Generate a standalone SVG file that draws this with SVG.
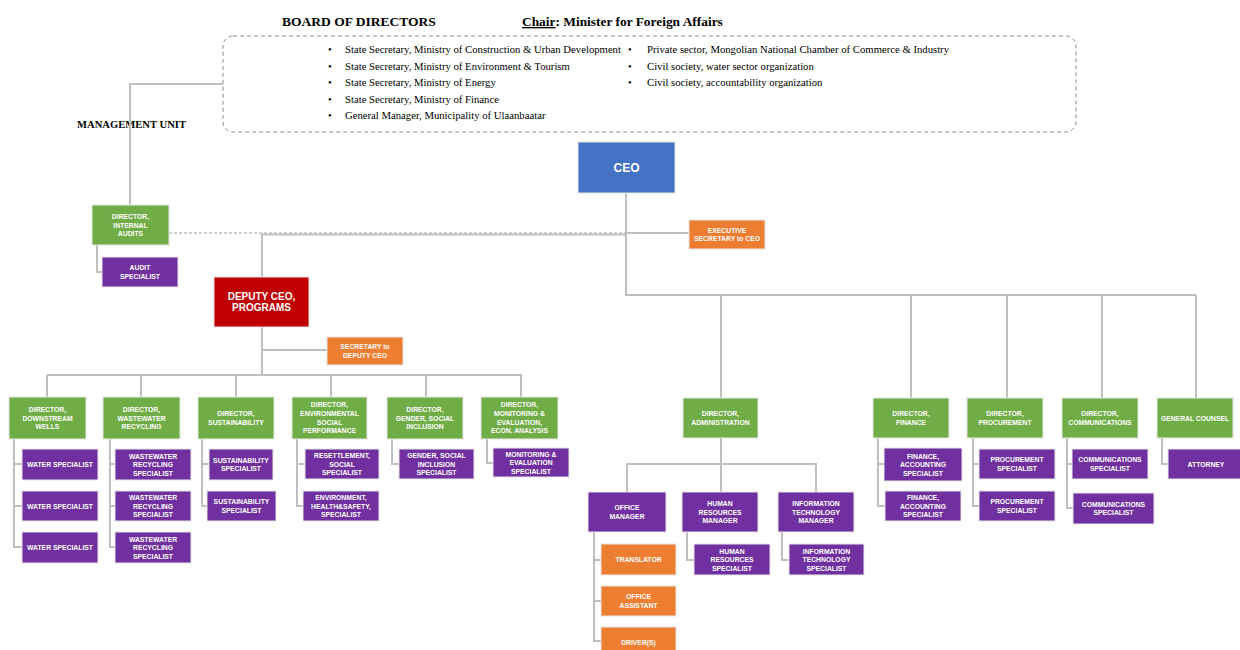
<svg xmlns="http://www.w3.org/2000/svg" width="1240" height="650" viewBox="0 0 1240 650">
<style>
.bx{stroke:#E6E6E6;stroke-width:1}
.g{fill:#70AD47}.p{fill:#7030A0}.o{fill:#ED7D31}.b{fill:#4472C4}.r{fill:#C00000}
.t{font-family:"Liberation Sans",Arial,sans-serif;font-weight:bold;font-size:6.8px;fill:#fff;text-anchor:middle}
.c{fill:none;stroke:#BFBFBF;stroke-width:2}
.cd{fill:none;stroke:#BFBFBF;stroke-width:1.5;stroke-dasharray:3 2}
.s{font-family:"Liberation Serif","Times New Roman",serif;font-size:10.7px;fill:#000}
.h{font-family:"Liberation Serif","Times New Roman",serif;font-weight:bold;fill:#000}
</style>
<rect width="1240" height="650" fill="#fff"/>

<g id="board">
<text class="h" x="282" y="26" style="font-size:13.5px">BOARD OF DIRECTORS</text>
<text class="h" x="522" y="26" style="font-size:13.4px"><tspan text-decoration="underline">Chair</tspan>: Minister for Foreign Affairs</text>
<rect x="223" y="36" width="853" height="96" rx="10" fill="none" stroke="#8C8C8C" stroke-width="1" stroke-dasharray="4 3"/>
<g class="s">
<text x="328" y="53">•</text><text x="345" y="53">State Secretary, Ministry of Construction &amp; Urban Development</text>
<text x="328" y="69.5">•</text><text x="345" y="69.5">State Secretary, Ministry of Environment &amp; Tourism</text>
<text x="328" y="86">•</text><text x="345" y="86">State Secretary, Ministry of Energy</text>
<text x="328" y="102.5">•</text><text x="345" y="102.5">State Secretary, Ministry of Finance</text>
<text x="328" y="119">•</text><text x="345" y="119">General Manager, Municipality of Ulaanbaatar</text>
<text x="628" y="53">•</text><text x="647" y="53">Private sector, Mongolian National Chamber of Commerce &amp; Industry</text>
<text x="628" y="69.5">•</text><text x="647" y="69.5">Civil society, water sector organization</text>
<text x="628" y="86">•</text><text x="647" y="86">Civil society, accountability organization</text>
</g>
</g>
<text id="mgmt-label" class="h" x="77" y="128" style="font-size:10.6px">MANAGEMENT UNIT</text>

<g id="connectors">
<polyline class="c" stroke-width="1.5" points="223,84 130,84 130,205"/>
<line class="cd" x1="169" y1="233" x2="626" y2="233"/>
<polyline class="c" points="262,277 262,234.5 626,234.5"/>
<line class="c" x1="626" y1="193" x2="626" y2="296"/>
<line class="c" x1="626" y1="233" x2="689" y2="233"/>
<polyline class="c" points="97,245 97,272 102,272"/>
<line class="c" x1="625" y1="295" x2="1196" y2="295"/>
<line class="c" x1="721" y1="295" x2="721" y2="398"/>
<line class="c" x1="911" y1="295" x2="911" y2="398"/>
<line class="c" x1="1007" y1="295" x2="1007" y2="398"/>
<line class="c" x1="1102" y1="295" x2="1102" y2="398"/>
<line class="c" x1="1196" y1="295" x2="1196" y2="398"/>
<line class="c" x1="262" y1="327" x2="262" y2="376"/>
<line class="c" x1="262" y1="350" x2="327" y2="350"/>
<line class="c" x1="47" y1="375" x2="522" y2="375"/>
<line class="c" x1="47" y1="375" x2="47" y2="397"/>
<line class="c" x1="141" y1="375" x2="141" y2="397"/>
<line class="c" x1="236" y1="375" x2="236" y2="397"/>
<line class="c" x1="331" y1="375" x2="331" y2="397"/>
<line class="c" x1="426" y1="375" x2="426" y2="397"/>
<line class="c" x1="521" y1="375" x2="521" y2="397"/>
<polyline class="c" points="14,439 14,547 22,547"/>
<line class="c" x1="14" y1="464" x2="22" y2="464"/>
<line class="c" x1="14" y1="506" x2="22" y2="506"/>
<polyline class="c" points="110,439 110,547 115,547"/>
<line class="c" x1="110" y1="464" x2="115" y2="464"/>
<line class="c" x1="110" y1="506" x2="115" y2="506"/>
<polyline class="c" points="202,439 202,506 207,506"/>
<line class="c" x1="202" y1="464" x2="209" y2="464"/>
<polyline class="c" points="297,439 297,506 303,506"/>
<line class="c" x1="297" y1="464" x2="305" y2="464"/>
<polyline class="c" points="392,439 392,464 399,464"/>
<polyline class="c" points="487,439 487,463 493,463"/>
<line class="c" x1="721" y1="438" x2="721" y2="492"/>
<polyline class="c" points="627,492 627,464 816,464 816,492"/>
<polyline class="c" points="594,532 594,641 601,641"/>
<line class="c" x1="594" y1="560" x2="601" y2="560"/>
<line class="c" x1="594" y1="601" x2="601" y2="601"/>
<polyline class="c" points="687,532 687,560 694,560"/>
<polyline class="c" points="782,532 782,560 789,560"/>
<polyline class="c" points="878,438 878,506 885,506"/>
<line class="c" x1="878" y1="464" x2="884" y2="464"/>
<polyline class="c" points="973,438 973,506 979,506"/>
<line class="c" x1="973" y1="464" x2="979" y2="464"/>
<polyline class="c" points="1067,438 1067,508 1073,508"/>
<line class="c" x1="1067" y1="464" x2="1072" y2="464"/>
<polyline class="c" points="1162,438 1162,464 1168,464"/>
</g>

<g id="ceo"><rect class="bx b" x="578" y="142" width="97" height="51"/><text class="t" x="626.5" y="171.5" style="font-size:12px">CEO</text></g>
<g id="exec-secretary"><rect class="bx o" x="689" y="220" width="76" height="29"/><text class="t" x="727" y="232.5"><tspan x="727">EXECUTIVE</tspan><tspan x="727" dy="8.5">SECRETARY to CEO</tspan></text></g>
<g id="internal-audits"><rect class="bx g" x="92" y="205" width="77" height="40"/><text class="t" y="219"><tspan x="130.5">DIRECTOR,</tspan><tspan x="130.5" dy="8.5">INTERNAL</tspan><tspan x="130.5" dy="8.5">AUDITS</tspan></text></g>
<g id="audit-specialist"><rect class="bx p" x="102" y="257" width="76" height="30"/><text class="t" y="270.25"><tspan x="140">AUDIT</tspan><tspan x="140" dy="8.5">SPECIALIST</tspan></text></g>
<g id="deputy-ceo"><rect class="bx r" x="214" y="277" width="95" height="50"/><text class="t" y="299.5" style="font-size:10px"><tspan x="261.5">DEPUTY CEO,</tspan><tspan x="261.5" dy="11.5">PROGRAMS</tspan></text></g>
<g id="secretary-deputy"><rect class="bx o" x="327" y="337" width="76" height="28"/><text class="t" y="349.25"><tspan x="365">SECRETARY to</tspan><tspan x="365" dy="8.5">DEPUTY CEO</tspan></text></g>

<g id="dir-downstream"><rect class="bx g" x="9" y="397" width="77" height="42"/><text class="t" y="412"><tspan x="47.5">DIRECTOR,</tspan><tspan x="47.5" dy="8.5">DOWNSTREAM</tspan><tspan x="47.5" dy="8.5">WELLS</tspan></text></g>
<g id="water-spec-1"><rect class="bx p" x="22" y="449" width="76" height="31"/><text class="t" x="60" y="467">WATER SPECIALIST</text></g>
<g id="water-spec-2"><rect class="bx p" x="22" y="491" width="76" height="30"/><text class="t" x="60" y="508.5">WATER SPECIALIST</text></g>
<g id="water-spec-3"><rect class="bx p" x="22" y="532" width="76" height="31"/><text class="t" x="60" y="550">WATER SPECIALIST</text></g>

<g id="dir-wastewater"><rect class="bx g" x="103" y="397" width="77" height="42"/><text class="t" y="412"><tspan x="141.5">DIRECTOR,</tspan><tspan x="141.5" dy="8.5">WASTEWATER</tspan><tspan x="141.5" dy="8.5">RECYCLING</tspan></text></g>
<g id="ww-spec-1"><rect class="bx p" x="115" y="449" width="76" height="31"/><text class="t" y="458.5"><tspan x="153">WASTEWATER</tspan><tspan x="153" dy="8.5">RECYCLING</tspan><tspan x="153" dy="8.5">SPECIALIST</tspan></text></g>
<g id="ww-spec-2"><rect class="bx p" x="115" y="491" width="76" height="30"/><text class="t" y="500"><tspan x="153">WASTEWATER</tspan><tspan x="153" dy="8.5">RECYCLING</tspan><tspan x="153" dy="8.5">SPECIALIST</tspan></text></g>
<g id="ww-spec-3"><rect class="bx p" x="115" y="532" width="76" height="31"/><text class="t" y="541.5"><tspan x="153">WASTEWATER</tspan><tspan x="153" dy="8.5">RECYCLING</tspan><tspan x="153" dy="8.5">SPECIALIST</tspan></text></g>

<g id="dir-sustainability"><rect class="bx g" x="198" y="397" width="76" height="42"/><text class="t" y="416.25"><tspan x="236">DIRECTOR,</tspan><tspan x="236" dy="8.5">SUSTAINABILITY</tspan></text></g>
<g id="sus-spec-1"><rect class="bx p" x="209" y="449" width="64" height="31"/><text class="t" y="462.75"><tspan x="241">SUSTAINABILITY</tspan><tspan x="241" dy="8.5">SPECIALIST</tspan></text></g>
<g id="sus-spec-2"><rect class="bx p" x="207" y="491" width="69" height="30"/><text class="t" y="504.25"><tspan x="241.5">SUSTAINABILITY</tspan><tspan x="241.5" dy="8.5">SPECIALIST</tspan></text></g>

<g id="dir-environmental"><rect class="bx g" x="292" y="397" width="75" height="42"/><text class="t" y="407"><tspan x="329.5">DIRECTOR,</tspan><tspan x="329.5" dy="8.8">ENVIRONMENTAL</tspan><tspan x="329.5" dy="8.8">SOCIAL</tspan><tspan x="329.5" dy="8.8">PERFORMANCE</tspan></text></g>
<g id="resettlement-spec"><rect class="bx p" x="305" y="449" width="74" height="30"/><text class="t" y="458"><tspan x="342">RESETTLEMENT,</tspan><tspan x="342" dy="8.5">SOCIAL</tspan><tspan x="342" dy="8.5">SPECIALIST</tspan></text></g>
<g id="ehs-spec"><rect class="bx p" x="303" y="491" width="76" height="30"/><text class="t" y="500"><tspan x="341">ENVIRONMENT,</tspan><tspan x="341" dy="8.5">HEALTH&amp;SAFETY,</tspan><tspan x="341" dy="8.5">SPECIALIST</tspan></text></g>

<g id="dir-gender"><rect class="bx g" x="387" y="397" width="76" height="42"/><text class="t" y="412"><tspan x="425">DIRECTOR,</tspan><tspan x="425" dy="8.5">GENDER, SOCIAL</tspan><tspan x="425" dy="8.5">INCLUSION</tspan></text></g>
<g id="gender-spec"><rect class="bx p" x="399" y="449" width="75" height="30"/><text class="t" y="458"><tspan x="436.5">GENDER, SOCIAL</tspan><tspan x="436.5" dy="8.5">INCLUSION</tspan><tspan x="436.5" dy="8.5">SPECIALIST</tspan></text></g>

<g id="dir-monitoring"><rect class="bx g" x="481" y="397" width="77" height="42"/><text class="t" y="407"><tspan x="519.5">DIRECTOR,</tspan><tspan x="519.5" dy="8.8">MONITORING &amp;</tspan><tspan x="519.5" dy="8.8">EVALUATION,</tspan><tspan x="519.5" dy="8.8">ECON. ANALYSIS</tspan></text></g>
<g id="me-spec"><rect class="bx p" x="493" y="448" width="76" height="29"/><text class="t" y="456.5"><tspan x="531">MONITORING &amp;</tspan><tspan x="531" dy="8.5">EVALUATION</tspan><tspan x="531" dy="8.5">SPECIALIST</tspan></text></g>

<g id="dir-admin"><rect class="bx g" x="683" y="398" width="75" height="40"/><text class="t" y="416.25"><tspan x="720.5">DIRECTOR,</tspan><tspan x="720.5" dy="8.5">ADMINISTRATION</tspan></text></g>
<g id="office-manager"><rect class="bx p" x="588" y="492" width="78" height="40"/><text class="t" y="510.25"><tspan x="627">OFFICE</tspan><tspan x="627" dy="8.5">MANAGER</tspan></text></g>
<g id="translator"><rect class="bx o" x="601" y="544" width="75" height="31"/><text class="t" x="638.5" y="562">TRANSLATOR</text></g>
<g id="office-assistant"><rect class="bx o" x="601" y="586" width="75" height="30"/><text class="t" y="599.25"><tspan x="638.5">OFFICE</tspan><tspan x="638.5" dy="8.5">ASSISTANT</tspan></text></g>
<g id="drivers"><rect class="bx o" x="601" y="627" width="75" height="30"/><text class="t" x="638.5" y="644.5">DRIVER(S)</text></g>
<g id="hr-manager"><rect class="bx p" x="682" y="492" width="76" height="40"/><text class="t" y="506"><tspan x="720">HUMAN</tspan><tspan x="720" dy="8.5">RESOURCES</tspan><tspan x="720" dy="8.5">MANAGER</tspan></text></g>
<g id="hr-spec"><rect class="bx p" x="694" y="544" width="76" height="31"/><text class="t" y="553.5"><tspan x="732">HUMAN</tspan><tspan x="732" dy="8.5">RESOURCES</tspan><tspan x="732" dy="8.5">SPECIALIST</tspan></text></g>
<g id="it-manager"><rect class="bx p" x="778" y="492" width="76" height="40"/><text class="t" y="506"><tspan x="816">INFORMATION</tspan><tspan x="816" dy="8.5">TECHNOLOGY</tspan><tspan x="816" dy="8.5">MANAGER</tspan></text></g>
<g id="it-spec"><rect class="bx p" x="789" y="544" width="75" height="31"/><text class="t" y="553.5"><tspan x="826.5">INFORMATION</tspan><tspan x="826.5" dy="8.5">TECHNOLOGY</tspan><tspan x="826.5" dy="8.5">SPECIALIST</tspan></text></g>

<g id="dir-finance"><rect class="bx g" x="873" y="398" width="76" height="40"/><text class="t" y="416.25"><tspan x="911">DIRECTOR,</tspan><tspan x="911" dy="8.5">FINANCE</tspan></text></g>
<g id="fin-spec-1"><rect class="bx p" x="884" y="448" width="78" height="33"/><text class="t" y="458.5"><tspan x="923">FINANCE,</tspan><tspan x="923" dy="8.5">ACCOUNTING</tspan><tspan x="923" dy="8.5">SPECIALIST</tspan></text></g>
<g id="fin-spec-2"><rect class="bx p" x="885" y="491" width="76" height="30"/><text class="t" y="500"><tspan x="923">FINANCE,</tspan><tspan x="923" dy="8.5">ACCOUNTING</tspan><tspan x="923" dy="8.5">SPECIALIST</tspan></text></g>

<g id="dir-procurement"><rect class="bx g" x="967" y="398" width="76" height="40"/><text class="t" y="416.25"><tspan x="1005">DIRECTOR,</tspan><tspan x="1005" dy="8.5">PROCUREMENT</tspan></text></g>
<g id="proc-spec-1"><rect class="bx p" x="979" y="449" width="76" height="30"/><text class="t" y="462.25"><tspan x="1017">PROCUREMENT</tspan><tspan x="1017" dy="8.5">SPECIALIST</tspan></text></g>
<g id="proc-spec-2"><rect class="bx p" x="979" y="491" width="76" height="30"/><text class="t" y="504.25"><tspan x="1017">PROCUREMENT</tspan><tspan x="1017" dy="8.5">SPECIALIST</tspan></text></g>

<g id="dir-communications"><rect class="bx g" x="1062" y="398" width="76" height="40"/><text class="t" y="416.25"><tspan x="1100">DIRECTOR,</tspan><tspan x="1100" dy="8.5">COMMUNICATIONS</tspan></text></g>
<g id="comm-spec-1"><rect class="bx p" x="1072" y="449" width="76" height="30"/><text class="t" y="462.25"><tspan x="1110">COMMUNICATIONS</tspan><tspan x="1110" dy="8.5">SPECIALIST</tspan></text></g>
<g id="comm-spec-2"><rect class="bx p" x="1073" y="493" width="81" height="31"/><text class="t" y="506.75"><tspan x="1113.5">COMMUNICATIONS</tspan><tspan x="1113.5" dy="8.5">SPECIALIST</tspan></text></g>

<g id="general-counsel"><rect class="bx g" x="1157" y="398" width="76" height="40"/><text class="t" x="1195" y="420.5">GENERAL COUNSEL</text></g>
<g id="attorney"><rect class="bx p" x="1168" y="449" width="76" height="30"/><text class="t" x="1206" y="466.5">ATTORNEY</text></g>
</svg>
